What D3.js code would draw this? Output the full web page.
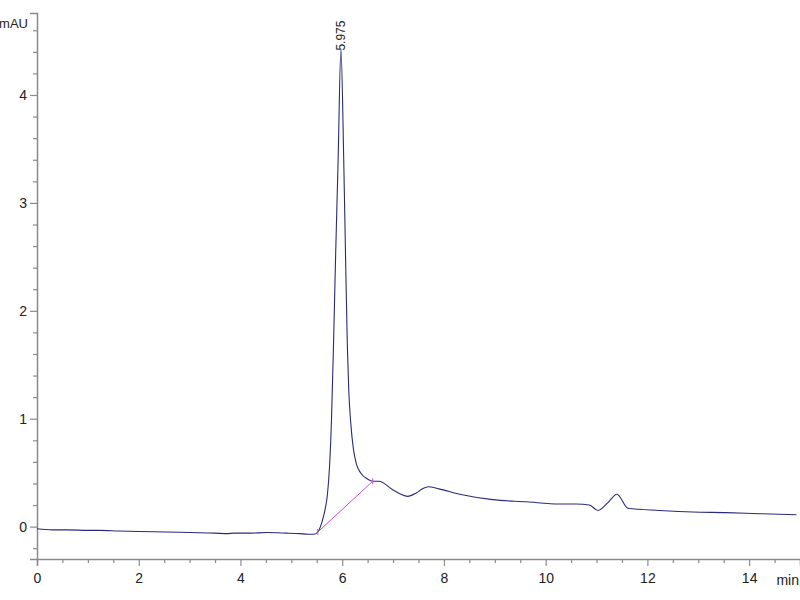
<!DOCTYPE html>
<html><head><meta charset="utf-8">
<script src="https://cdn.jsdelivr.net/npm/d3@7"></script>
<style>body{margin:0;background:#fff}svg{display:block}</style>
</head><body>
<svg id="c" width="800" height="600"></svg>
<script>
// Retention time (min)
const times = [0, 0.3, 0.6, 1.0, 1.24, 1.6, 2.0, 2.55, 3.0, 3.5, 3.75, 3.86, 4.2, 4.51, 4.9, 5.17, 5.33, 5.45, 5.52,
  5.60, 5.66, 5.71, 5.75, 5.79, 5.83, 5.87, 5.92, 5.975, 6.03, 6.07, 6.10, 6.13, 6.17, 6.22, 6.28, 6.36, 6.5, 6.6, 6.72,
  7.0, 7.15, 7.29, 7.45, 7.58, 7.69, 7.9, 8.31, 8.96, 9.62, 10.27, 10.6, 10.86, 11.03, 11.22, 11.40, 11.62, 12.24, 12.89, 13.55, 14.2, 14.93];
// Absorbance (mAU)
const signal = [-0.02, -0.03, -0.03, -0.035, -0.035, -0.04, -0.045, -0.05, -0.055, -0.06, -0.065, -0.06, -0.06, -0.055, -0.06, -0.065, -0.07, -0.07, -0.05,
  0.04, 0.15, 0.30, 0.55, 1.0, 1.7, 2.5, 3.4, 4.43, 3.4, 2.4, 1.7, 1.25, 0.95, 0.72, 0.58, 0.50, 0.44, 0.42, 0.42,
  0.34, 0.30, 0.28, 0.31, 0.35, 0.37, 0.35, 0.30, 0.25, 0.23, 0.21, 0.21, 0.20, 0.15, 0.22, 0.30, 0.17, 0.15, 0.135, 0.13, 0.12, 0.11];
// Integration baseline for the main peak
const baseT = [5.52, 6.6];
const baseV = [-0.05, 0.42];
const peakLabel = "5.975";
const peakT = 5.975, peakV = 4.43;
const xMajor = [0, 2, 4, 6, 8, 10, 12, 14];
const yMajor = [0, 1, 2, 3, 4];

const svg = d3.select("#c");
const x = d3.scaleLinear().domain([0, 15]).range([37, 800]);
const y = d3.scaleLinear().domain([-0.3, 4.76]).range([559, 13]);
const axisCol = "#8a8a8a";
const font = "Liberation Sans, Arial, sans-serif";

const xMinor = d3.range(0, 15.01, 0.5).filter(v => !xMajor.includes(v));
const yMinor = d3.range(-0.2, 4.61, 0.2).map(v => +v.toFixed(1)).filter(v => !yMajor.includes(v));

function styleAxis(g) {
  g.select(".domain").attr("stroke", axisCol).attr("stroke-width", 1.5);
  g.selectAll(".tick line").attr("stroke", axisCol).attr("stroke-width", 1.2);
  g.selectAll("text").attr("fill", "#222").style("font-family", font).style("font-size", "14px");
}

// X axis
const gx = svg.append("g").attr("transform", `translate(0,559)`);
gx.call(d3.axisBottom(x).tickValues(xMajor).tickSize(7).tickPadding(7).tickFormat(d3.format("d")));
gx.append("g").call(d3.axisBottom(x).tickValues(xMinor).tickSize(4).tickFormat(""))
  .call(g => g.select(".domain").remove());
styleAxis(gx);

// Y axis
const gy = svg.append("g").attr("transform", `translate(37,0)`);
gy.call(d3.axisLeft(y).tickValues(yMajor).tickSize(7).tickPadding(3).tickFormat(d3.format("d")));
gy.append("g").call(d3.axisLeft(y).tickValues(yMinor).tickSize(4).tickFormat(""))
  .call(g => g.select(".domain").remove());
styleAxis(gy);

svg.append("text").attr("x", 28).attr("y", 28).attr("text-anchor", "end")
  .style("font-family", font).style("font-size", "13px").attr("fill", "#222").text("mAU");
svg.append("text").attr("x", 799).attr("y", 585).attr("text-anchor", "end")
  .style("font-family", font).style("font-size", "14px").attr("fill", "#222").text("min");

// Trace
const pts = times.map((t, i) => [t, signal[i]]);
svg.append("path").datum(pts)
  .attr("d", d3.line().x(d => x(d[0])).y(d => y(d[1])).curve(d3.curveMonotoneX))
  .attr("fill", "none").attr("stroke", "#2a2a7a").attr("stroke-width", 1.1);

// Integration baseline
svg.append("line")
  .attr("x1", x(baseT[0])).attr("y1", y(baseV[0])).attr("x2", x(baseT[1])).attr("y2", y(baseV[1]))
  .attr("stroke", "#c94fc9").attr("stroke-width", 1);
baseT.forEach((t, i) => {
  svg.append("line").attr("x1", x(t)).attr("x2", x(t))
    .attr("y1", y(baseV[i]) - 3).attr("y2", y(baseV[i]) + 3)
    .attr("stroke", "#c94fc9").attr("stroke-width", 1);
});

// Peak label
svg.append("text")
  .attr("transform", `translate(${x(peakT) + 4},${y(peakV) + 2}) rotate(-90)`)
  .attr("text-anchor", "start")
  .style("font-family", font).style("font-size", "12px").attr("fill", "#222")
  .text(peakLabel);
</script>
</body></html>
